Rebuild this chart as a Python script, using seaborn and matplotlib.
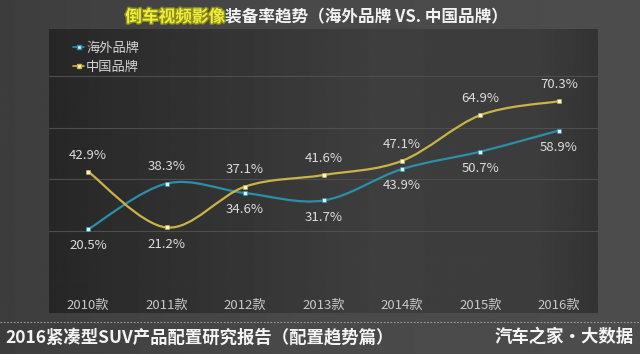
import numpy as np
import seaborn as sns
import matplotlib
matplotlib.use("Agg")
import matplotlib.pyplot as plt
from matplotlib.path import Path
from matplotlib.patches import PathPatch
from matplotlib.lines import Line2D
import matplotlib.patheffects as pe

years = ["2010款", "2011款", "2012款", "2013款", "2014款", "2015款", "2016款"]
overseas = [20.5, 38.3, 34.6, 31.7, 43.9, 50.7, 58.9]
domestic = [42.9, 21.2, 37.1, 41.6, 47.1, 64.9, 70.3]
overseas_pos = ["below", "above", "below", "below", "below", "below", "below"]
domestic_pos = ["above", "below", "above", "above", "above", "above", "above"]
series_names = ["海外品牌", "中国品牌"]

BLUE = "#2b8fab"
YELLOW = "#c9b447"


def smooth_path(xs, ys):
    # Catmull-Rom style bezier, like the office "smoothed line"
    pts = np.column_stack([xs, ys]).astype(float)
    verts = [pts[0]]
    codes = [Path.MOVETO]
    n = len(pts)
    for i in range(n - 1):
        p0 = pts[max(i - 1, 0)]
        p1 = pts[i]
        p2 = pts[i + 1]
        p3 = pts[min(i + 2, n - 1)]
        c1 = p1 + (p2 - p0) / 6.0
        c2 = p2 - (p3 - p1) / 6.0
        verts += [c1, c2, p2]
        codes += [Path.CURVE4] * 3
    return Path(verts, codes)


def main():
    sns.set_theme(style="dark")
    plt.rcParams["font.family"] = ["Noto Sans CJK SC", "DejaVu Sans"]

    fig = plt.figure(figsize=(6.4, 3.54), dpi=100)

    # background + panel gradients
    bg = fig.add_axes([0, 0, 1, 1], zorder=-10)
    bg.set_xlim(0, 1)
    bg.set_ylim(0, 1)
    bg.axis("off")
    g = np.linspace(0, 1, 256)
    bg_row = np.interp(g, [0, 0.5, 1], [0.24, 0.29, 0.30])
    bg.imshow(np.tile(bg_row, (2, 1)), cmap="gray", vmin=0, vmax=1,
              extent=[0, 1, 0, 1], aspect="auto")
    panel_row = np.interp(g, [0, 0.1, 0.6, 0.9, 1], [0.15, 0.17, 0.245, 0.235, 0.20])
    bg.imshow(np.tile(panel_row, (2, 1)), cmap="gray", vmin=0, vmax=1,
              extent=[49 / 640, 598 / 640, 1 - 313 / 354, 1 - 29 / 354],
              aspect="auto")
    bg.plot([0, 1], [1 - 322 / 354] * 2, color="#9a9a9a", lw=0.8,
            ls=(0, (1.5, 1.5)))

    ax = fig.add_axes([49 / 640, 1 - 282 / 354, 549 / 640, 253 / 354])
    ax.set_facecolor("none")
    for s in ax.spines.values():
        s.set_visible(False)

    x = np.arange(len(years))
    for vals, color, pos, edge in [(overseas, BLUE, overseas_pos, "#d8f4ff"),
                                   (domestic, YELLOW, domestic_pos, "#fff8d8")]:
        ax.add_patch(PathPatch(smooth_path(x, vals), fill=False,
                               edgecolor=color, lw=1.6, zorder=3,
                               capstyle="round"))
        sns.scatterplot(x=x, y=vals, ax=ax, marker="s", s=12, color=edge,
                        edgecolor=color, linewidth=0.4, zorder=4)
        for xi, v, p in zip(x, vals, pos):
            dy = 12 if p == "above" else -12
            ax.annotate(f"{v}%", (xi, v), xytext=(0, dy),
                        textcoords="offset points", ha="center", va="center",
                        fontsize=9.5, color="#dcdcdc")

    ax.set_xlim(-0.5, 6.5)
    ax.set_ylim(0, 98.4)
    ax.set_yticks([0, 20, 40, 60, 80])
    ax.set_yticklabels([])
    ax.set_xticks(x)
    ax.set_xticklabels(years)
    ax.tick_params(axis="both", length=0)
    ax.tick_params(axis="x", pad=12, labelsize=9.5, labelcolor="#c8c8c8")
    ax.grid(axis="y", color="#4e4e4e", lw=0.8)
    ax.grid(axis="x", visible=False)

    handles = [Line2D([0], [0], color=BLUE, lw=1.2, marker="s", markersize=2.5,
                      markerfacecolor="#d8f4ff", markeredgecolor=BLUE),
               Line2D([0], [0], color=YELLOW, lw=1.2, marker="s", markersize=2.5,
                      markerfacecolor="#fff8d8", markeredgecolor=YELLOW)]
    leg = ax.legend(handles, series_names, loc="upper left",
                    bbox_to_anchor=(0.035, 0.97), frameon=False,
                    handlelength=0.8, handletextpad=0.15, labelspacing=0.45,
                    fontsize=9.5, borderaxespad=0)
    for t in leg.get_texts():
        t.set_color("#d4d4d4")

    # title in two colours
    fig.text(225 / 640, 1 - 17 / 354, "倒车视频影像", ha="right", va="center",
             fontsize=12, fontweight="bold", color="#eeee3a",
             path_effects=[pe.withStroke(linewidth=2, foreground="#8a8a20")])
    fig.text(225 / 640, 1 - 17 / 354, "装备率趋势（海外品牌 VS. 中国品牌）",
             ha="left", va="center", fontsize=12, fontweight="bold",
             color="#f2f2f2")

    fig.text(5 / 640, 1 - 337 / 354, "2016紧凑型SUV产品配置研究报告（配置趋势篇）",
             ha="left", va="center", fontsize=12.5, fontweight="bold",
             color="#f4f4f4")
    fig.text(634 / 640, 1 - 337 / 354, "汽车之家•大数据", ha="right",
             va="center", fontsize=12.5, fontweight="bold", color="#f4f4f4")

    fig.savefig("out.png", dpi=100, facecolor="#444444")


if __name__ == "__main__":
    main()
